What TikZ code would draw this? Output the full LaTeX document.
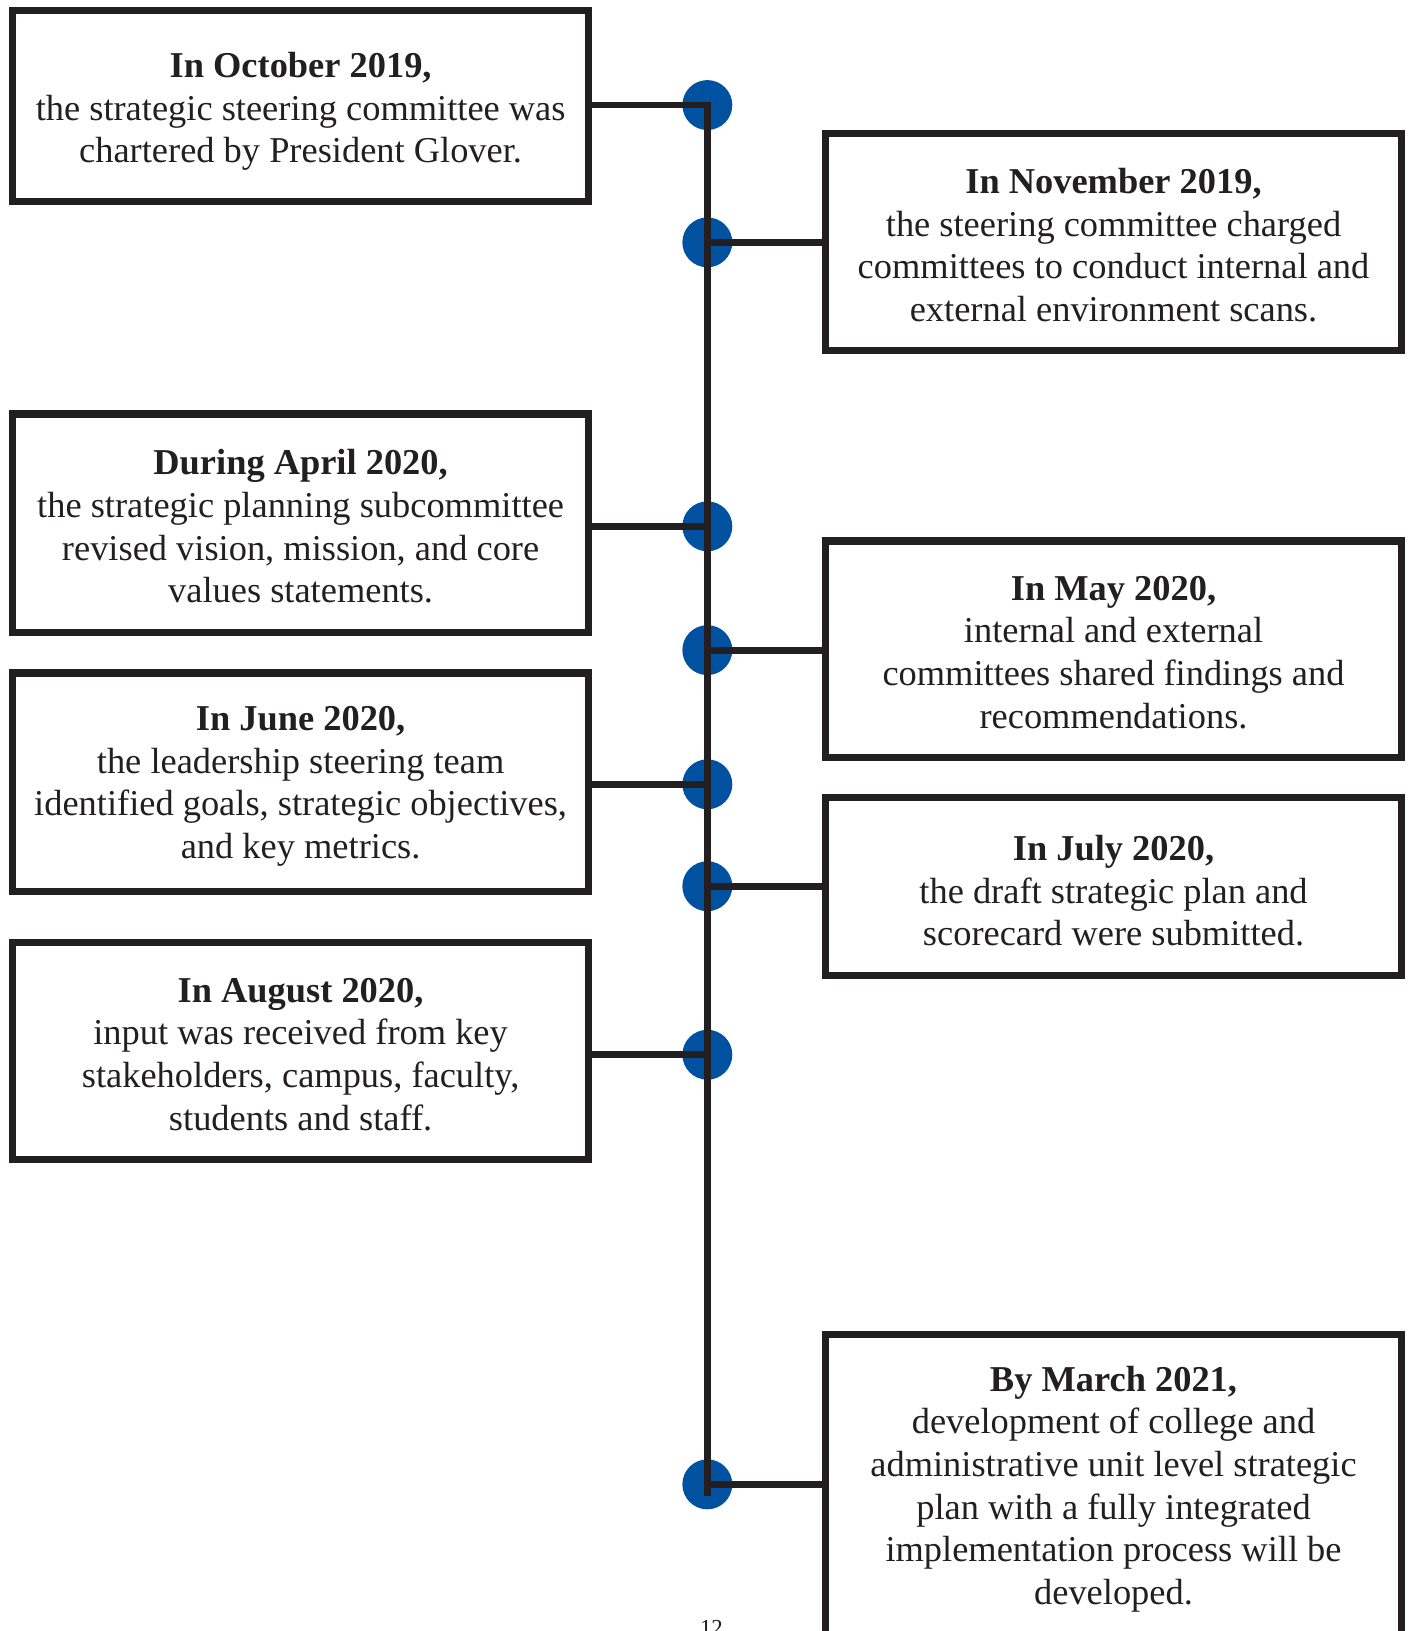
\documentclass[tikz,border=0pt]{standalone}
\usepackage{fontspec}
\setmainfont{Liberation Serif}
\definecolor{ink}{HTML}{231F20}
\definecolor{dotblue}{RGB}{0,82,160}
\begin{document}
\begin{tikzpicture}[x=0.5pt,y=-0.5pt,
  box/.style={draw=ink, line width=3.5pt, rectangle, outer sep=0pt, inner sep=0pt,
    minimum width=277pt},
  txt/.style={align=center, text=ink, inner sep=0pt,
    font=\fontsize{17.5}{20.5}\selectfont},
  dot/.style={circle, fill=dotblue, minimum size=24pt, inner sep=0pt, outer sep=0pt},
  link/.style={draw=ink, line width=3.3pt}]
\useasboundingbox (0,0) rectangle (1358,1568);
\clip (0,0) rectangle (1358,1568);
% dots
\node[dot] (d1) at (680,101) {};
\node[dot] (d2) at (680,233) {};
\node[dot] (d3) at (680,506) {};
\node[dot] (d4) at (680,625) {};
\node[dot] (d5) at (680,754) {};
\node[dot] (d6) at (680,852) {};
\node[dot] (d7) at (680,1014) {};
\node[dot] (d8) at (680,1427) {};
\coordinate (spineend) at (680,1438);
% boxes
\node[box, minimum height=92pt] (b1) at (289,102) {};
\node[box, minimum height=104.5pt] (b2) at (1070.5,232.5) {};
\node[box, minimum height=105pt] (b3) at (289,503) {};
\node[box, minimum height=104pt] (b4) at (1070.5,624) {};
\node[box, minimum height=105pt] (b5) at (289,752) {};
\node[box, minimum height=85.5pt] (b6) at (1070.5,852.5) {};
\node[box, minimum height=104.5pt] (b7) at (289,1010.5) {};
\node[box, minimum height=145.5pt] (b8) at (1070.5,1428.5) {};
% texts
\node[txt] (t1) at ([yshift=-2.5pt]b1.center)
  {\textbf{In October 2019,}\\the strategic steering committee was\\chartered by President Glover.};
\node[txt] (t2) at ([yshift=-1.5pt]b2.center)
  {\textbf{In November 2019,}\\the steering committee charged\\committees to conduct internal and\\external environment scans.};
\node[txt] (t3) at ([yshift=-1.5pt]b3.center)
  {\textbf{During April 2020,}\\the strategic planning subcommittee\\revised vision, mission, and core\\values statements.};
\node[txt] (t4) at ([yshift=-1.5pt]b4.center)
  {\textbf{In May 2020,}\\internal and external\\committees shared findings and\\recommendations.};
\node[txt] (t5) at ([yshift=-2pt]b5.center)
  {\textbf{In June 2020,}\\the leadership steering team\\identified goals, strategic objectives,\\and key metrics.};
\node[txt] (t6) at ([yshift=-2pt]b6.center)
  {\textbf{In July 2020,}\\the draft strategic plan and\\scorecard were submitted.};
\node[txt] (t7) at ([yshift=-1.5pt]b7.center)
  {\textbf{In August 2020,}\\input was received from key\\stakeholders, campus, faculty,\\students and staff.};
\node[txt] (t8) at ([yshift=-1.5pt]b8.center)
  {\textbf{By March 2021,}\\development of college and\\administrative unit level strategic\\plan with a fully integrated\\implementation process will be\\developed.};
% connectors
\draw[link] (b1.east |- d1) -- (d1.center) -- (spineend);
\draw[link] (d2.center) -- (b2.west |- d2);
\draw[link] (b3.east |- d3) -- (d3.center);
\draw[link] (d4.center) -- (b4.west |- d4);
\draw[link] (b5.east |- d5) -- (d5.center);
\draw[link] (d6.center) -- (b6.west |- d6);
\draw[link] (b7.east |- d7) -- (d7.center);
\draw[link] (d8.center) -- (b8.west |- d8);
% page number
\node[anchor=base, text=ink, font=\fontsize{11}{13}\selectfont, inner sep=0pt] (pg) at (684,1572) {12};
\end{tikzpicture}
\end{document}
